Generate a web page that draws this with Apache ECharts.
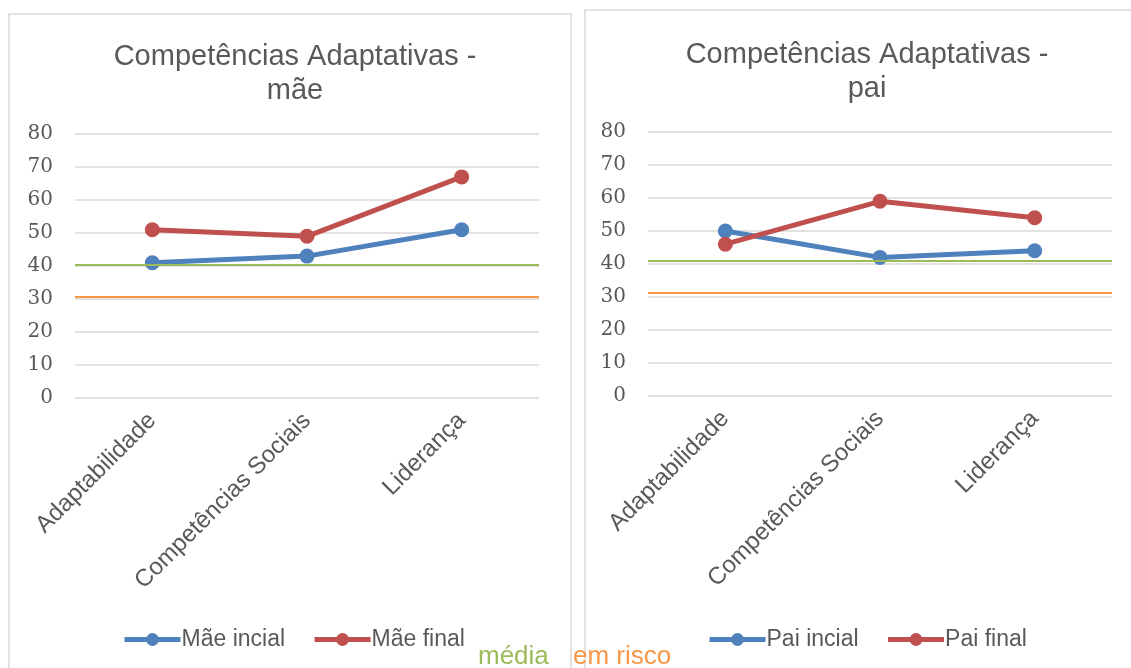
<!DOCTYPE html>
<html>
<head>
<meta charset="utf-8">
<script src="https://cdn.jsdelivr.net/npm/echarts@6/dist/echarts.min.js"></script>
<style>
html, body { margin: 0; padding: 0; background: #fff; }
#chart { width: 1131px; height: 668px; }
</style>
</head>
<body>
<div id="chart"></div>
<script>
var categories = ['Adaptabilidade', 'Competências Sociais', 'Liderança'];
var maeInicial = [41, 43, 51];
var maeFinal = [51, 49, 67];
var paiInicial = [50, 42, 44];
var paiFinal = [46, 59, 54];
var mediaLevel = [40.4, 41.1];
var riscoLevel = [30.7, 31.4];

var chart = echarts.init(document.getElementById('chart'), null, {renderer: 'canvas'});

var grey = '#595959';
var blue = '#4f81bd', red = '#c0504d', green = '#9bbb59', orange = '#f79646';

function yAxis(idx) {
    return {
        gridIndex: idx, type: 'value', min: 0, max: 80, interval: 10,
        axisLine: {show: false}, axisTick: {show: false},
        axisLabel: {color: grey, fontSize: 20, fontFamily: 'DejaVu Serif', margin: 22},
        splitLine: {lineStyle: {color: '#d9d9d9', width: 1.5}}
    };
}
function xAxis(idx) {
    return {
        gridIndex: idx, type: 'category', data: categories, boundaryGap: true,
        axisLine: {show: false}, axisTick: {show: false},
        axisLabel: {rotate: 45, color: grey, fontSize: 24, fontFamily: 'Liberation Sans', margin: 19, interval: 0}
    };
}
function lineSeries(name, data, color, idx) {
    return {
        name: name, type: 'line', data: data, xAxisIndex: idx, yAxisIndex: idx,
        symbol: 'circle', symbolSize: 15, color: color,
        lineStyle: {width: 5, color: color}, itemStyle: {color: color}
    };
}
function refLines(idx) {
    return {
        type: 'line', data: [], xAxisIndex: idx, yAxisIndex: idx, silent: true,
        markLine: {
            silent: true, symbol: 'none', label: {show: false},
            data: [
                {yAxis: mediaLevel[idx], lineStyle: {color: green, width: 2, type: 'solid'}},
                {yAxis: riscoLevel[idx], lineStyle: {color: orange, width: 2, type: 'solid'}}
            ]
        }
    };
}

var s1 = lineSeries('Mãe incial', maeInicial, blue, 0);
var s2 = lineSeries('Mãe final', maeFinal, red, 0);
var s3 = lineSeries('Pai incial', paiInicial, blue, 1);
var s4 = lineSeries('Pai final', paiFinal, red, 1);

var legendText = {color: grey, fontSize: 23, fontFamily: 'Liberation Sans', padding: [0, 0, 0, -4]};

chart.setOption({
    animation: false,
    title: [
        {text: 'Competências Adaptativas -\nmãe', left: 290, top: 35, textAlign: 'center',
         textStyle: {color: grey, fontSize: 29, fontWeight: 'normal', fontFamily: 'Liberation Sans', lineHeight: 34}},
        {text: 'Competências Adaptativas -\npai', left: 862, top: 33, textAlign: 'center',
         textStyle: {color: grey, fontSize: 29, fontWeight: 'normal', fontFamily: 'Liberation Sans', lineHeight: 34}}
    ],
    legend: [
        {data: ['Mãe incial', 'Mãe final'], left: 117, top: 623, itemWidth: 56, itemHeight: 16, itemGap: 27,
         lineStyle: {width: 5}, textStyle: legendText},
        {data: ['Pai incial', 'Pai final'], left: 702, top: 623, itemWidth: 56, itemHeight: 16, itemGap: 27,
         lineStyle: {width: 5}, textStyle: legendText}
    ],
    grid: [
        {left: 75, right: 592, top: 134, bottom: 270},
        {left: 648, right: 19, top: 132, bottom: 272}
    ],
    xAxis: [xAxis(0), xAxis(1)],
    yAxis: [yAxis(0), yAxis(1)],
    series: [refLines(0), refLines(1), s1, s2, s3, s4],
    graphic: [
        {type: 'rect', shape: {x: 9, y: 14, width: 562, height: 700}, silent: true, z: -1,
         style: {fill: 'none', stroke: '#d9d9d9', lineWidth: 1.5}},
        {type: 'rect', shape: {x: 585, y: 10, width: 560, height: 700}, silent: true, z: -1,
         style: {fill: 'none', stroke: '#d9d9d9', lineWidth: 1.5}},
        {type: 'text', left: 478, top: 644, style: {text: 'média', fill: green, fontSize: 26, fontFamily: 'Liberation Sans'}},
        {type: 'text', left: 573, top: 644, style: {text: 'em risco', fill: orange, fontSize: 26, fontFamily: 'Liberation Sans'}}
    ]
});
</script>
</body>
</html>
